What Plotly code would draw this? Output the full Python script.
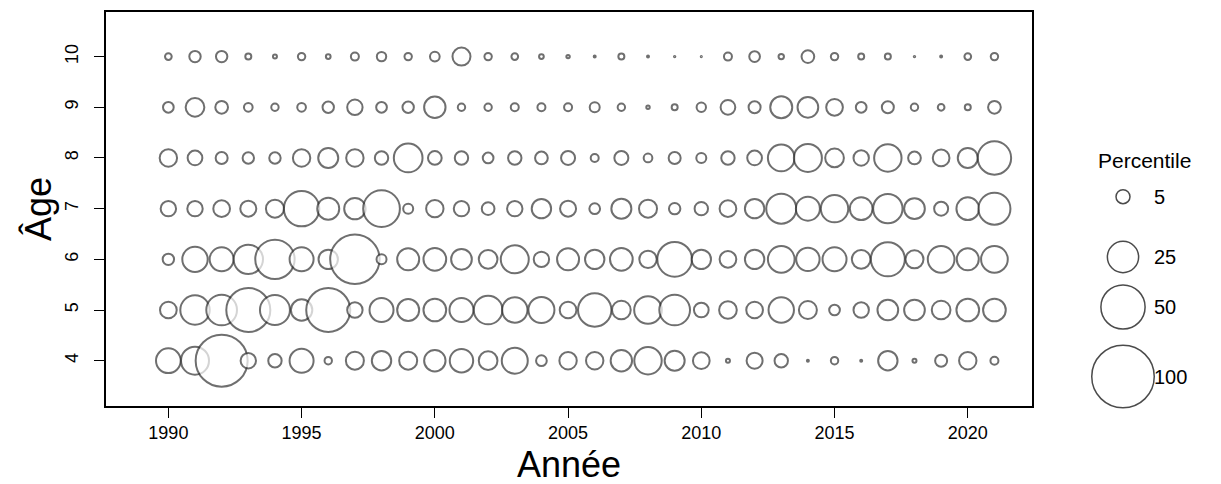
import plotly.graph_objects as go

# ---- data ---------------------------------------------------------------
years = list(range(1990, 2022))
ages = [4, 5, 6, 7, 8, 9, 10]

pct_age4 = [15.62, 20.07, 69.2, 6.07, 4.60, 14.75, 1.40, 8.29, 9.63, 8.29, 11.72,
            14.02, 8.95, 17.3, 2.93, 7.75, 7.75, 11.72, 19.22, 10.24, 7.14,
            0.41, 6.55, 4.60, 0.10, 1.40, 0.10, 9.63, 0.41, 3.69, 7.75, 1.64]
pct_age5 = [7.14, 22.13, 24.13, 49.6, 23.04, 11.72, 49.6, 6.07, 14.75, 12.39, 13.19,
            14.75, 21.09, 16.52, 17.3, 7.14, 28.56, 8.95, 19.6, 24.13, 5.53,
            8.0, 7.14, 16.52, 8.29, 2.93, 6.07, 10.97, 10.97, 8.95, 13.19, 13.19]
pct_age6 = [3.33, 16.52, 14.75, 22.13, 39.7, 14.75, 9.63, 62.5, 2.56, 12.39, 13.19,
            10.97, 8.95, 20.07, 6.07, 12.39, 9.63, 13.19, 7.75, 30.8, 9.63,
            7.14, 9.63, 18.25, 14.02, 14.75, 8.95, 29.6, 8.29, 18.25, 12.39, 18.25]
pct_age7 = [6.07, 6.07, 7.14, 6.55, 8.29, 32.1, 12.39, 11.72, 34.5, 2.56, 7.75,
            6.07, 4.13, 6.07, 9.63, 6.55, 2.93, 10.24, 8.29, 3.33, 4.60,
            7.14, 9.63, 23.04, 14.75, 19.22, 13.19, 22.13, 10.97, 5.02, 13.19, 26.2]
pct_age8 = [7.75, 5.53, 3.69, 3.33, 3.33, 7.75, 10.24, 7.75, 4.60, 21.09, 4.8,
            4.60, 2.93, 4.60, 4.13, 5.02, 1.64, 5.02, 1.94, 3.69, 2.56,
            4.60, 5.53, 18.25, 20.07, 8.95, 6.07, 19.22, 4.13, 7.14, 10.24, 28.56]
pct_age9 = [2.93, 8.95, 4.13, 1.94, 1.40, 1.94, 3.33, 6.07, 2.93, 3.33, 11.72,
            1.40, 1.40, 1.64, 1.64, 1.64, 2.56, 1.40, 0.30, 0.92, 2.26,
            5.53, 3.69, 12.39, 10.97, 7.14, 2.93, 3.69, 1.40, 1.15, 0.92, 4.13]
pct_age10 = [1.15, 3.33, 3.33, 0.92, 0.41, 1.40, 0.57, 1.64, 2.26, 1.40, 2.41,
             8.29, 1.40, 1.15, 0.57, 0.30, 0.10, 0.92, 0.10, 0.05, 0.03,
             1.64, 2.93, 0.75, 4.13, 1.40, 0.92, 0.92, 0.05, 0.10, 1.15, 1.40]

rows = [pct_age4, pct_age5, pct_age6, pct_age7, pct_age8, pct_age9, pct_age10]

x_ticks = [1990, 1995, 2000, 2005, 2010, 2015, 2020]
legend_values = [5, 25, 50, 100]
legend_labels = ["5", "25", "50", "100"]

# ---- layout constants ------------------------------------------------------
W, H = 1221, 484
L, R, T, B = 106, 1032, 12, 406          # plot box (px)
FONT = "Liberation Sans, Arial, sans-serif"
PX_PER_SQRT = 6.25                        # circle diameter per sqrt(percentile)
SIZEREF = 2.0 / PX_PER_SQRT ** 2          # plotly 'area' sizing

fig = go.Figure()

for age, vals in zip(ages, rows):
    fig.add_trace(go.Scatter(
        x=years, y=[age] * len(years), mode="markers",
        marker=dict(size=vals, sizemode="area", sizeref=SIZEREF, sizemin=0,
                    color="white", line=dict(color="#333333", width=2)),
        showlegend=False, hoverinfo="x+y", cliponaxis=False,
    ))

# size key on an overlay axis expressed in pixels
key_x = [1123] * len(legend_values)
key_y = [196.7, 257, 307, 376.5]
fig.add_trace(go.Scatter(
    x=key_x, y=key_y, mode="markers", xaxis="x2", yaxis="y2",
    marker=dict(size=legend_values, sizemode="area", sizeref=SIZEREF,
                color="white", line=dict(color="black", width=1.5)),
    showlegend=False, hoverinfo="skip", cliponaxis=False,
))

annotations = [
    dict(text="Percentile", x=1144 / W, y=1 - 161 / H, xref="paper", yref="paper",
         xanchor="center", yanchor="middle", showarrow=False,
         font=dict(family=FONT, size=21, color="black")),
    dict(text="Année", x=(L + R) / 2 / W, y=1 - 464 / H, xref="paper", yref="paper",
         xanchor="center", yanchor="middle", showarrow=False,
         font=dict(family=FONT, size=36, color="black")),
    dict(text="Âge", x=38 / W, y=1 - (T + B) / 2 / H, xref="paper", yref="paper",
         xanchor="center", yanchor="middle", showarrow=False, textangle=-90,
         font=dict(family=FONT, size=36, color="black")),
]
for lab, yy in zip(legend_labels, key_y):
    annotations.append(dict(
        text=lab, x=1152 / W, y=1 - yy / H, xref="paper", yref="paper",
        xanchor="left", yanchor="middle", showarrow=False,
        font=dict(family=FONT, size=20, color="black")))

axis_common = dict(showline=True, mirror=True, linecolor="black", linewidth=1.5,
                   ticks="outside", ticklen=10, tickwidth=1.4, tickcolor="black",
                   showgrid=False, zeroline=False, automargin=False,
                   tickfont=dict(family=FONT, size=18, color="black"))

fig.update_layout(
    width=W, height=H, margin=dict(l=0, r=0, t=0, b=0),
    paper_bgcolor="white", plot_bgcolor="white",
    xaxis=dict(domain=[L / W, R / W], range=[1987.66, 2022.41],
               tickvals=x_ticks, **axis_common),
    yaxis=dict(domain=[1 - B / H, 1 - T / H], range=[3.106, 10.88],
               tickvals=ages, tickangle=-90, ticklabelstandoff=9, **axis_common),
    xaxis2=dict(domain=[1080 / W, 1.0], range=[1080, W], visible=False,
                anchor="y2", fixedrange=True),
    yaxis2=dict(domain=[0.0, 1.0], range=[H, 0], visible=False,
                anchor="x2", fixedrange=True),
    annotations=annotations,
    showlegend=False,
)

fig.write_html("out.html")
